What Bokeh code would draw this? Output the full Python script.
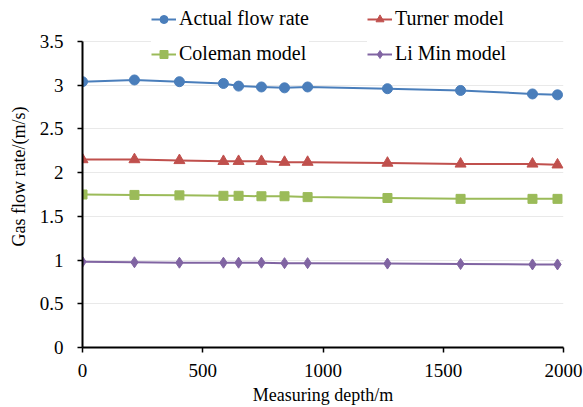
from bokeh.plotting import figure
from bokeh.models import Legend, LegendItem, Range1d, FixedTicker
from bokeh.embed import file_html
from bokeh.resources import INLINE

# Measuring depth (m) and gas flow rate (m/s) per series
depth = [0, 216, 403, 586, 649, 744, 840, 936, 1268, 1572, 1871, 1975]
actual = [3.04, 3.06, 3.04, 3.02, 2.99, 2.98, 2.97, 2.98, 2.96, 2.94, 2.90, 2.89]
turner = [2.15, 2.15, 2.14, 2.13, 2.13, 2.13, 2.12, 2.12, 2.11, 2.10, 2.10, 2.09]
coleman = [1.75, 1.745, 1.74, 1.735, 1.735, 1.73, 1.73, 1.72, 1.71, 1.70, 1.70, 1.70]
limin = [0.98, 0.975, 0.97, 0.97, 0.97, 0.97, 0.965, 0.965, 0.96, 0.955, 0.95, 0.95]

x_ticks = [0, 500, 1000, 1500, 2000]
y_ticks = [0, 0.5, 1, 1.5, 2, 2.5, 3, 3.5]

FONT = "Liberation Serif"

# The frame runs up to the top of the canvas so the legend can sit above
# the 3.5 line; the y axis itself is bounded to 0..3.5.
TOP_PX, Y35_PX, Y0_PX = 5, 41, 347
y_top = 3.5 * (Y0_PX - TOP_PX) / (Y0_PX - Y35_PX)

p = figure(width=583, height=407, output_backend="svg", toolbar_location=None,
           x_range=Range1d(0, 2000), y_range=Range1d(0, y_top),
           min_border_left=82, min_border_right=20, min_border_top=TOP_PX,
           min_border_bottom=407 - Y0_PX)
p.outline_line_color = None
p.background_fill_color = "white"
p.border_fill_color = "white"

# axes
for ax in (p.xaxis[0], p.yaxis[0]):
    ax.axis_line_color = "black"
    ax.axis_line_width = 2
    ax.major_tick_line_color = "black"
    ax.major_tick_line_width = 1.5
    ax.major_tick_out = 5
    ax.major_tick_in = 0
    ax.minor_tick_line_color = None
    ax.major_label_text_font = FONT
    ax.major_label_text_font_size = "19px"
    ax.major_label_text_color = "black"
    ax.axis_label_text_font = FONT
    ax.axis_label_text_font_size = "18px"
    ax.axis_label_text_font_style = "normal"
    ax.axis_label_text_color = "black"

p.xaxis[0].ticker = FixedTicker(ticks=x_ticks)
p.yaxis[0].ticker = FixedTicker(ticks=y_ticks)
p.yaxis[0].bounds = (0, 3.5)
p.xaxis[0].axis_label = "Measuring depth/m"
p.yaxis[0].axis_label = "Gas flow rate/(m/s)"
p.xaxis[0].major_label_standoff = 11
p.xaxis[0].axis_label_standoff = 5
p.yaxis[0].major_label_standoff = 14
p.yaxis[0].axis_label_standoff = 8

p.xgrid.grid_line_color = None
p.ygrid.grid_line_color = "#e9e9e9"
p.ygrid.grid_line_width = 1
p.ygrid.bounds = (0, 3.5)

series = [
    ("Actual flow rate", actual, "#4A7EBB", "circle", 10),
    ("Turner model", turner, "#C0504D", "triangle", 11),
    ("Coleman model", coleman, "#9BBB59", "square", 9),
    ("Li Min model", limin, "#8064A2", "diamond", 11),
]

items = []
for name, ys, color, marker, size in series:
    ln = p.line(depth, ys, line_color=color, line_width=2)
    sc = p.scatter(depth, ys, marker=marker, size=size,
                   fill_color=color, line_color=color)
    items.append(LegendItem(label=name, renderers=[ln, sc]))

def make_legend(its, loc):
    lg = Legend(items=its, location=loc, orientation="vertical",
                label_text_font=FONT, label_text_font_size="20px",
                label_text_color="black", glyph_width=25, glyph_height=20,
                label_height=20, label_standoff=3, spacing=12, padding=0,
                margin=0, border_line_color=None,
                background_fill_color="white", background_fill_alpha=1.0)
    return lg

p.add_layout(make_legend([items[0], items[2]], (69, 282)), "center")
p.add_layout(make_legend([items[1], items[3]], (285, 282)), "center")

open("out.html", "w").write(file_html(p, INLINE))
